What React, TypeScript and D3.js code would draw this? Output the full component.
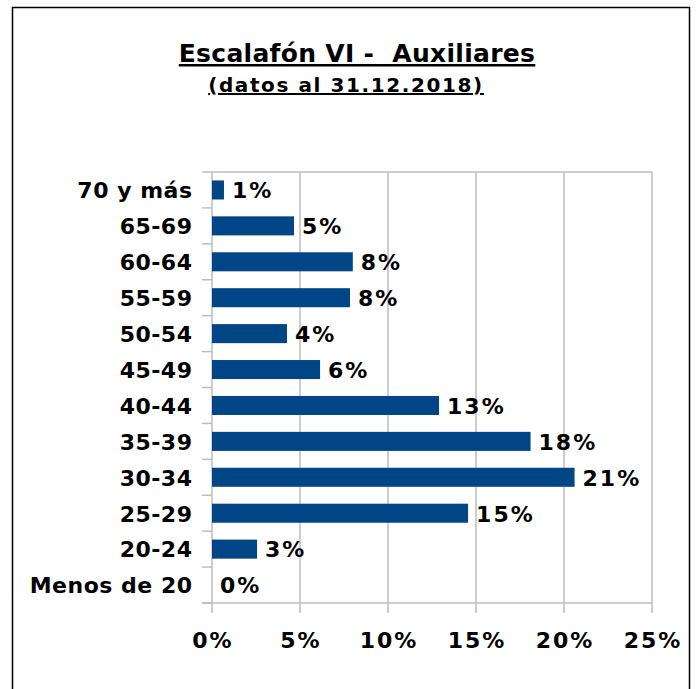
import React from "react";
import * as d3 from "d3";

const categories = ["70 y más", "65-69", "60-64", "55-59", "50-54", "45-49", "40-44", "35-39", "30-34", "25-29", "20-24", "Menos de 20"];
const values = [0.68, 4.66, 8.0, 7.84, 4.26, 6.14, 12.9, 18.1, 20.6, 14.55, 2.56, 0.0];
const labels = ["1%", "5%", "8%", "8%", "4%", "6%", "13%", "18%", "21%", "15%", "3%", "0%"];
const xTicks = [0, 5, 10, 15, 20, 25];

const W = 698, H = 689;
const plot = { left: 212, right: 652, top: 172, bottom: 603 };
const FONT = "'DejaVu Sans', Verdana, sans-serif";

export default function App() {
  const x = d3.scaleLinear().domain([0, 25]).range([plot.left, plot.right]);
  const y = d3.scaleBand().domain(categories).range([plot.top, plot.bottom]).paddingInner(0.47).paddingOuter(0.235);
  const band = d3.scaleBand().domain(categories).range([plot.top, plot.bottom]);
  const boundaries = d3.range(categories.length + 1).map(i => plot.top + i * band.step());
  return (
    <svg width={W} height={H} style={{ position: "absolute", left: 0, top: 0, background: "#fff" }}>
      <rect x={0} y={0} width={W} height={H} fill="#fff" />
      <path d={`M12.5,${H} V7.5 H689.5 V${H}`} fill="none" stroke="#000" strokeWidth={1.5} />
      <text x={357} y={62} textAnchor="middle" fontFamily={FONT} fontWeight="bold" fontSize={25} letterSpacing={0.3} textDecoration="underline" fill="#000" style={{ whiteSpace: "pre" }}>{"Escalafón VI -  Auxiliares"}</text>
      <text x={346} y={92} textAnchor="middle" fontFamily={FONT} fontWeight="bold" fontSize={20} letterSpacing={1.6} textDecoration="underline" fill="#000">(datos al 31.12.2018)</text>
      {xTicks.map(t => (
        <line key={"g" + t} x1={x(t)} x2={x(t)} y1={plot.top} y2={plot.bottom + 10} stroke="#bdbdbd" strokeWidth={1.5} />
      ))}
      <line x1={plot.left} x2={plot.right} y1={plot.top} y2={plot.top} stroke="#bdbdbd" strokeWidth={1.5} />
      <line x1={plot.left - 10} x2={plot.right} y1={plot.bottom} y2={plot.bottom} stroke="#bdbdbd" strokeWidth={1.5} />
      {boundaries.map((b, i) => (
        <line key={"b" + i} x1={plot.left - 10} x2={plot.left} y1={b} y2={b} stroke="#bdbdbd" strokeWidth={1.5} />
      ))}
      {categories.map((c, i) => (
        <g key={c}>
          <rect x={x(0)} y={y(c)} width={x(values[i]) - x(0)} height={y.bandwidth()} fill="#004586" />
          <text x={x(values[i]) + 8} y={(y(c) as number) + y.bandwidth() / 2} dy="0.38em" fontFamily={FONT} fontWeight="bold" fontSize={22} letterSpacing={2} fill="#000">{labels[i]}</text>
          <text x={192.5} y={(y(c) as number) + y.bandwidth() / 2} dy="0.38em" textAnchor="end" fontFamily={FONT} fontWeight="bold" fontSize={22} letterSpacing={0.5} fill="#000">{c}</text>
        </g>
      ))}
      {xTicks.map(t => (
        <text key={"t" + t} x={x(t) + 1} y={648} textAnchor="middle" fontFamily={FONT} fontWeight="bold" fontSize={22} letterSpacing={2} fill="#000">{t + "%"}</text>
      ))}
    </svg>
  );
}
